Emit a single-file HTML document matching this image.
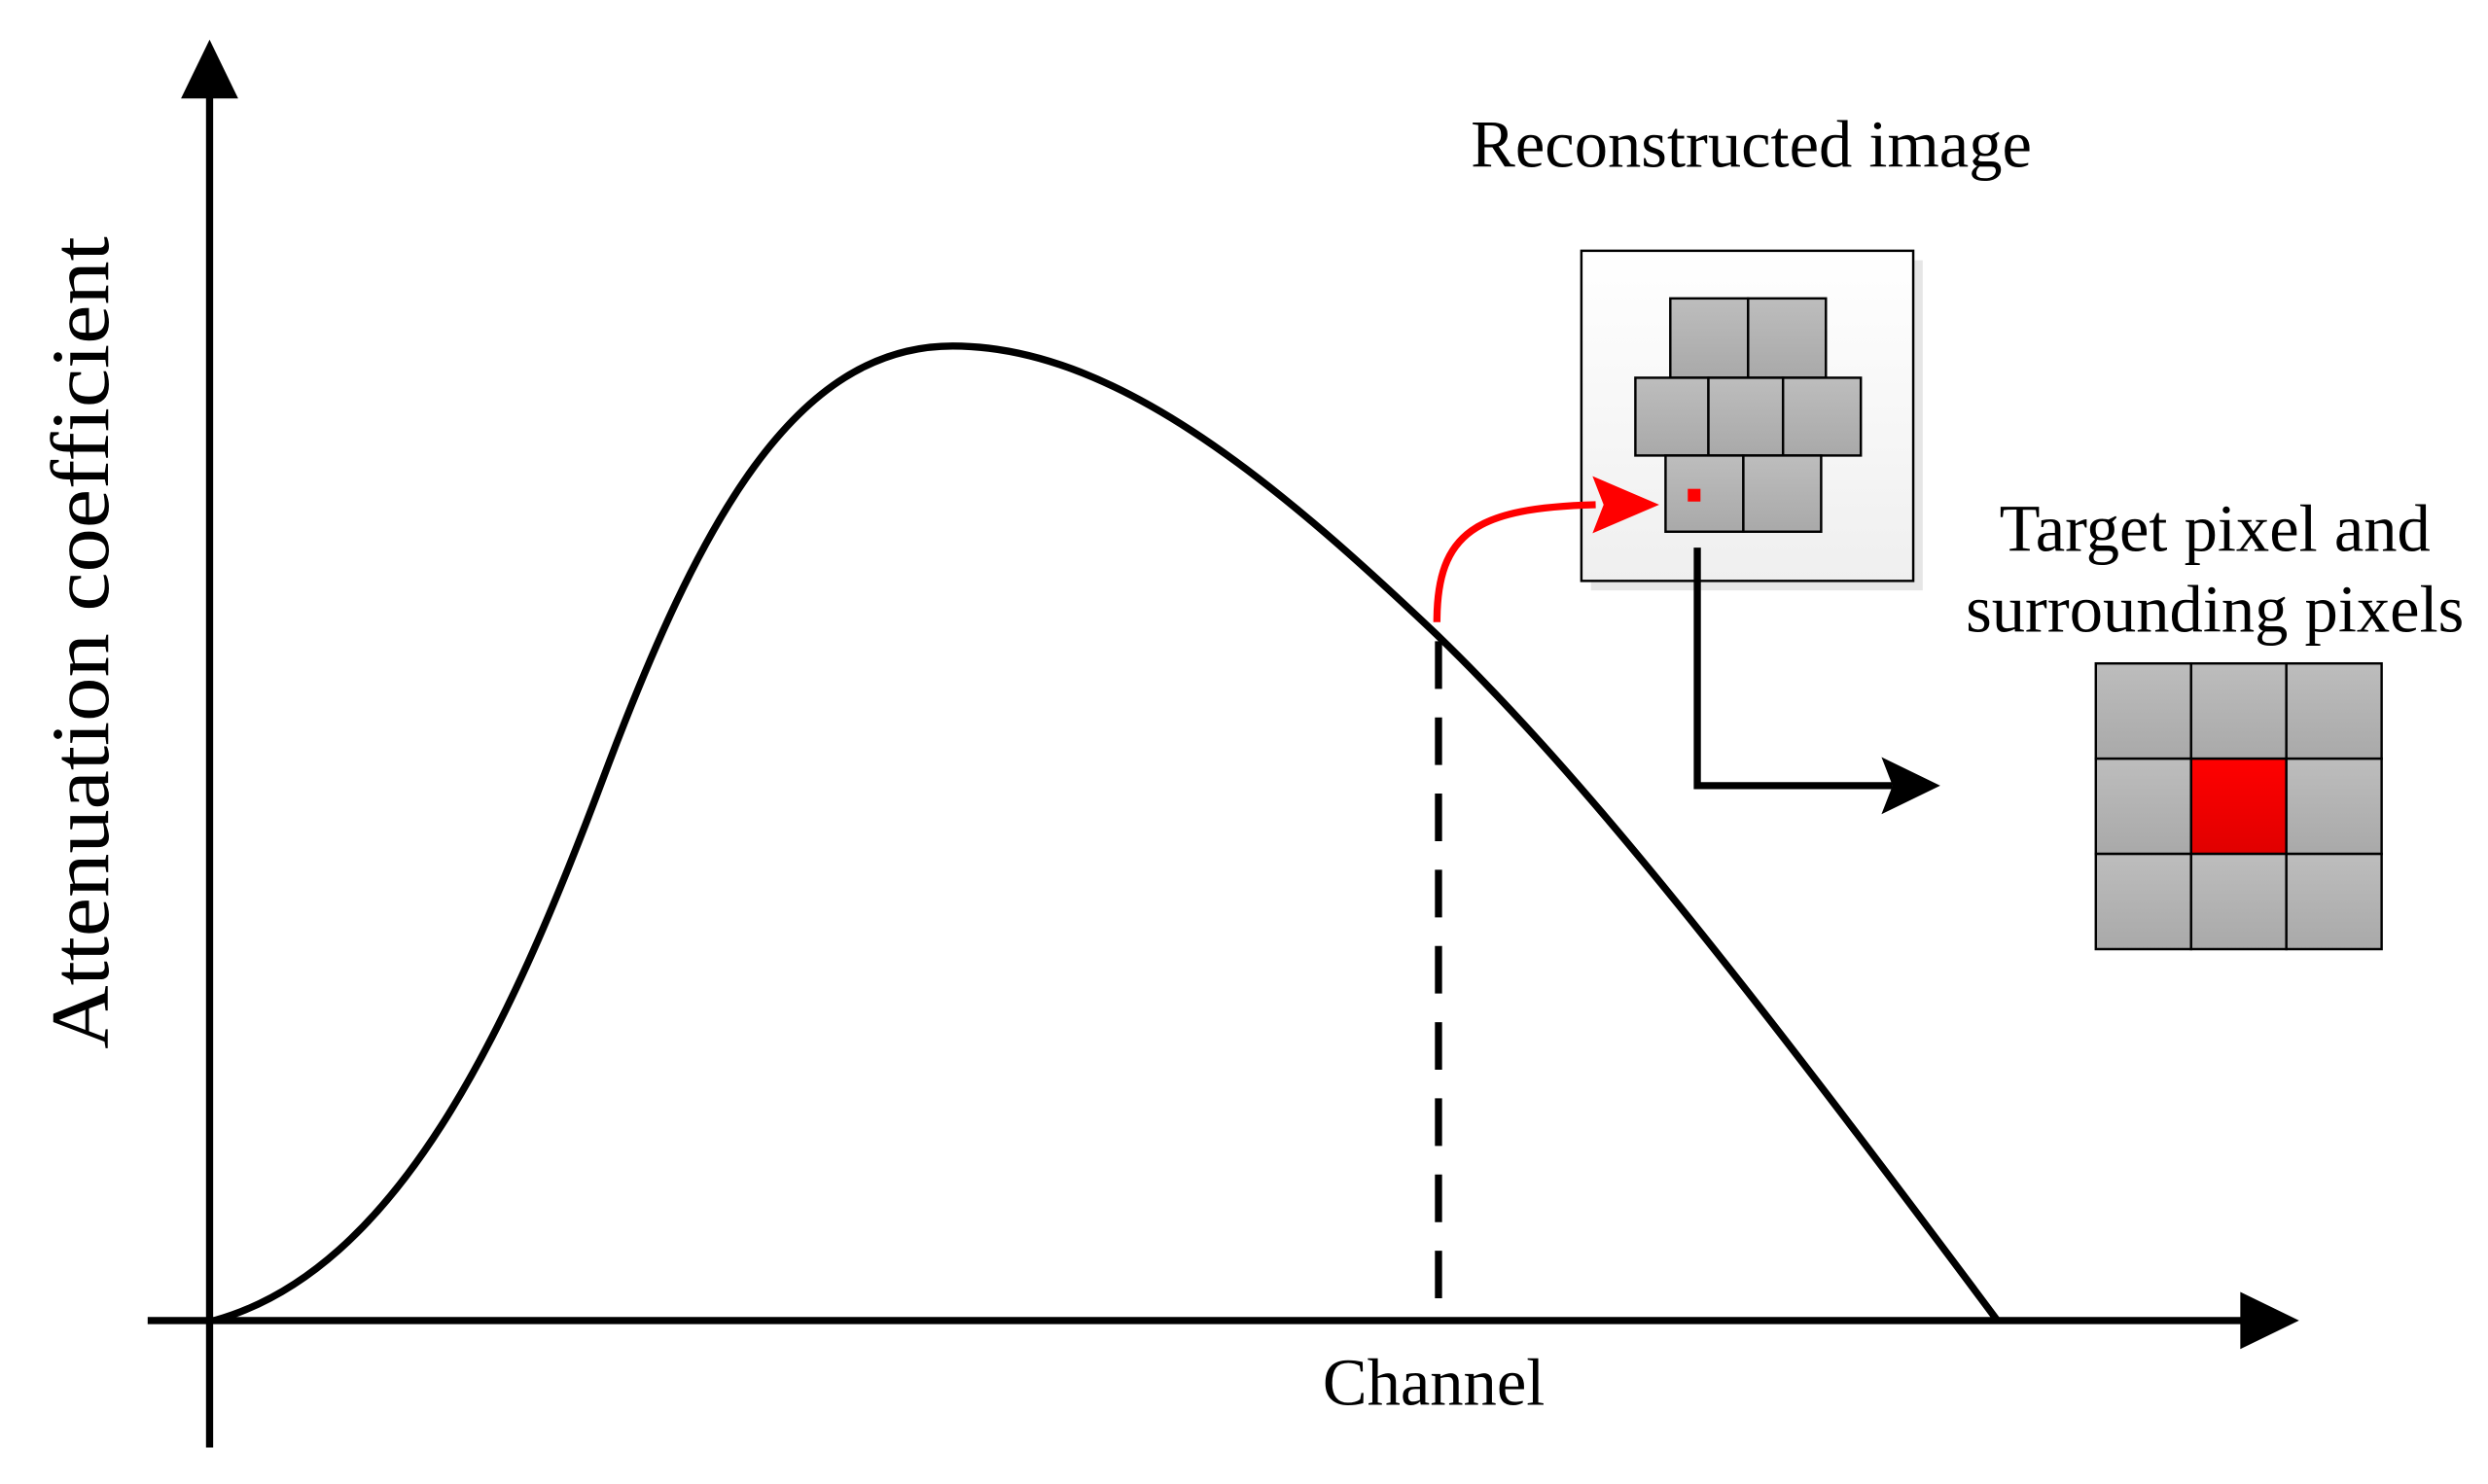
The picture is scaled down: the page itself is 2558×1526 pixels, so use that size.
<!DOCTYPE html>
<html><head><meta charset="utf-8"><style>html,body{margin:0;padding:0;background:#fff}svg{display:block}</style></head>
<body>
<svg width="2558" height="1526" viewBox="0 0 1567 935" preserveAspectRatio="none" xmlns="http://www.w3.org/2000/svg">
<defs>
<linearGradient id="bg" x1="0" y1="0" x2="0" y2="1"><stop offset="0" stop-color="#ffffff"/><stop offset="1" stop-color="#efefef"/></linearGradient>
<linearGradient id="cell" x1="0" y1="0" x2="0" y2="1"><stop offset="0" stop-color="#bdbdbd"/><stop offset="1" stop-color="#a9a9a9"/></linearGradient>
<linearGradient id="red" x1="0" y1="0" x2="0" y2="1"><stop offset="0" stop-color="#ff0000"/><stop offset="1" stop-color="#e00000"/></linearGradient>
</defs>
<g font-family="'Liberation Serif', serif" fill="#000">
<line x1="132" y1="60" x2="132" y2="912" stroke="#000" stroke-width="4.5"/>
<polygon points="132,25 114,62 150,62" fill="#000"/>
<line x1="93" y1="832" x2="1415" y2="832" stroke="#000" stroke-width="4.5"/>
<polygon points="1448,832 1411,814 1411,850" fill="#000"/>
<path d="M135,832 C 250,800 320,650 380,490 C 440,330 500,218 600,218 C 700,218 800,300 905,400 C 1000,492 1100,620 1258,832" fill="none" stroke="#000" stroke-width="4.5"/>
<line x1="906" y1="404" x2="906" y2="825" stroke="#000" stroke-width="4.5" stroke-dasharray="30,18"/>
<text x="903" y="885" font-size="42" text-anchor="middle">Channel</text>
<text transform="translate(68,405) rotate(-90)" font-size="52" text-anchor="middle" textLength="512" lengthAdjust="spacingAndGlyphs">Attenuation coefficient</text>
<text x="1103" y="105" font-size="42" text-anchor="middle">Reconstructed image</text>
<text x="1395" y="347" font-size="42" text-anchor="middle">Target pixel and</text>
<text x="1395" y="398" font-size="42" text-anchor="middle">surrounding pixels</text>
<rect x="1002" y="164" width="209" height="208" fill="#e6e6e6"/>
<rect x="996" y="158" width="209" height="208" fill="url(#bg)" stroke="#000" stroke-width="1.5"/>
<g stroke="#000" stroke-width="1.5" fill="url(#cell)">
<rect x="1052" y="188" width="49" height="50"/><rect x="1101" y="188" width="49" height="50"/>
<rect x="1030" y="238" width="46" height="49"/><rect x="1076" y="238" width="47" height="49"/><rect x="1123" y="238" width="49" height="49"/>
<rect x="1049" y="287" width="49" height="48"/><rect x="1098" y="287" width="49" height="48"/>
</g>
<rect x="1063" y="308" width="8" height="8" fill="#f00"/>
<path d="M905,392 C 905,335 930,320 1005,318" fill="none" stroke="#f00" stroke-width="4.5"/>
<polygon points="1045,318 1003,300 1010,318 1003,336" fill="#f00"/>
<path d="M1069,345 L1069,495 L1192,495" fill="none" stroke="#000" stroke-width="4.5"/>
<polygon points="1222,495 1185,477 1192,495 1185,513" fill="#000"/>
<g stroke="#000" stroke-width="1.5" fill="url(#cell)">
<rect x="1320" y="418" width="60" height="60"/><rect x="1380" y="418" width="60" height="60"/><rect x="1440" y="418" width="60" height="60"/>
<rect x="1320" y="478" width="60" height="60"/><rect x="1380" y="478" width="60" height="60" fill="url(#red)"/><rect x="1440" y="478" width="60" height="60"/>
<rect x="1320" y="538" width="60" height="60"/><rect x="1380" y="538" width="60" height="60"/><rect x="1440" y="538" width="60" height="60"/>
</g>
</g>
</svg>
</body></html>
